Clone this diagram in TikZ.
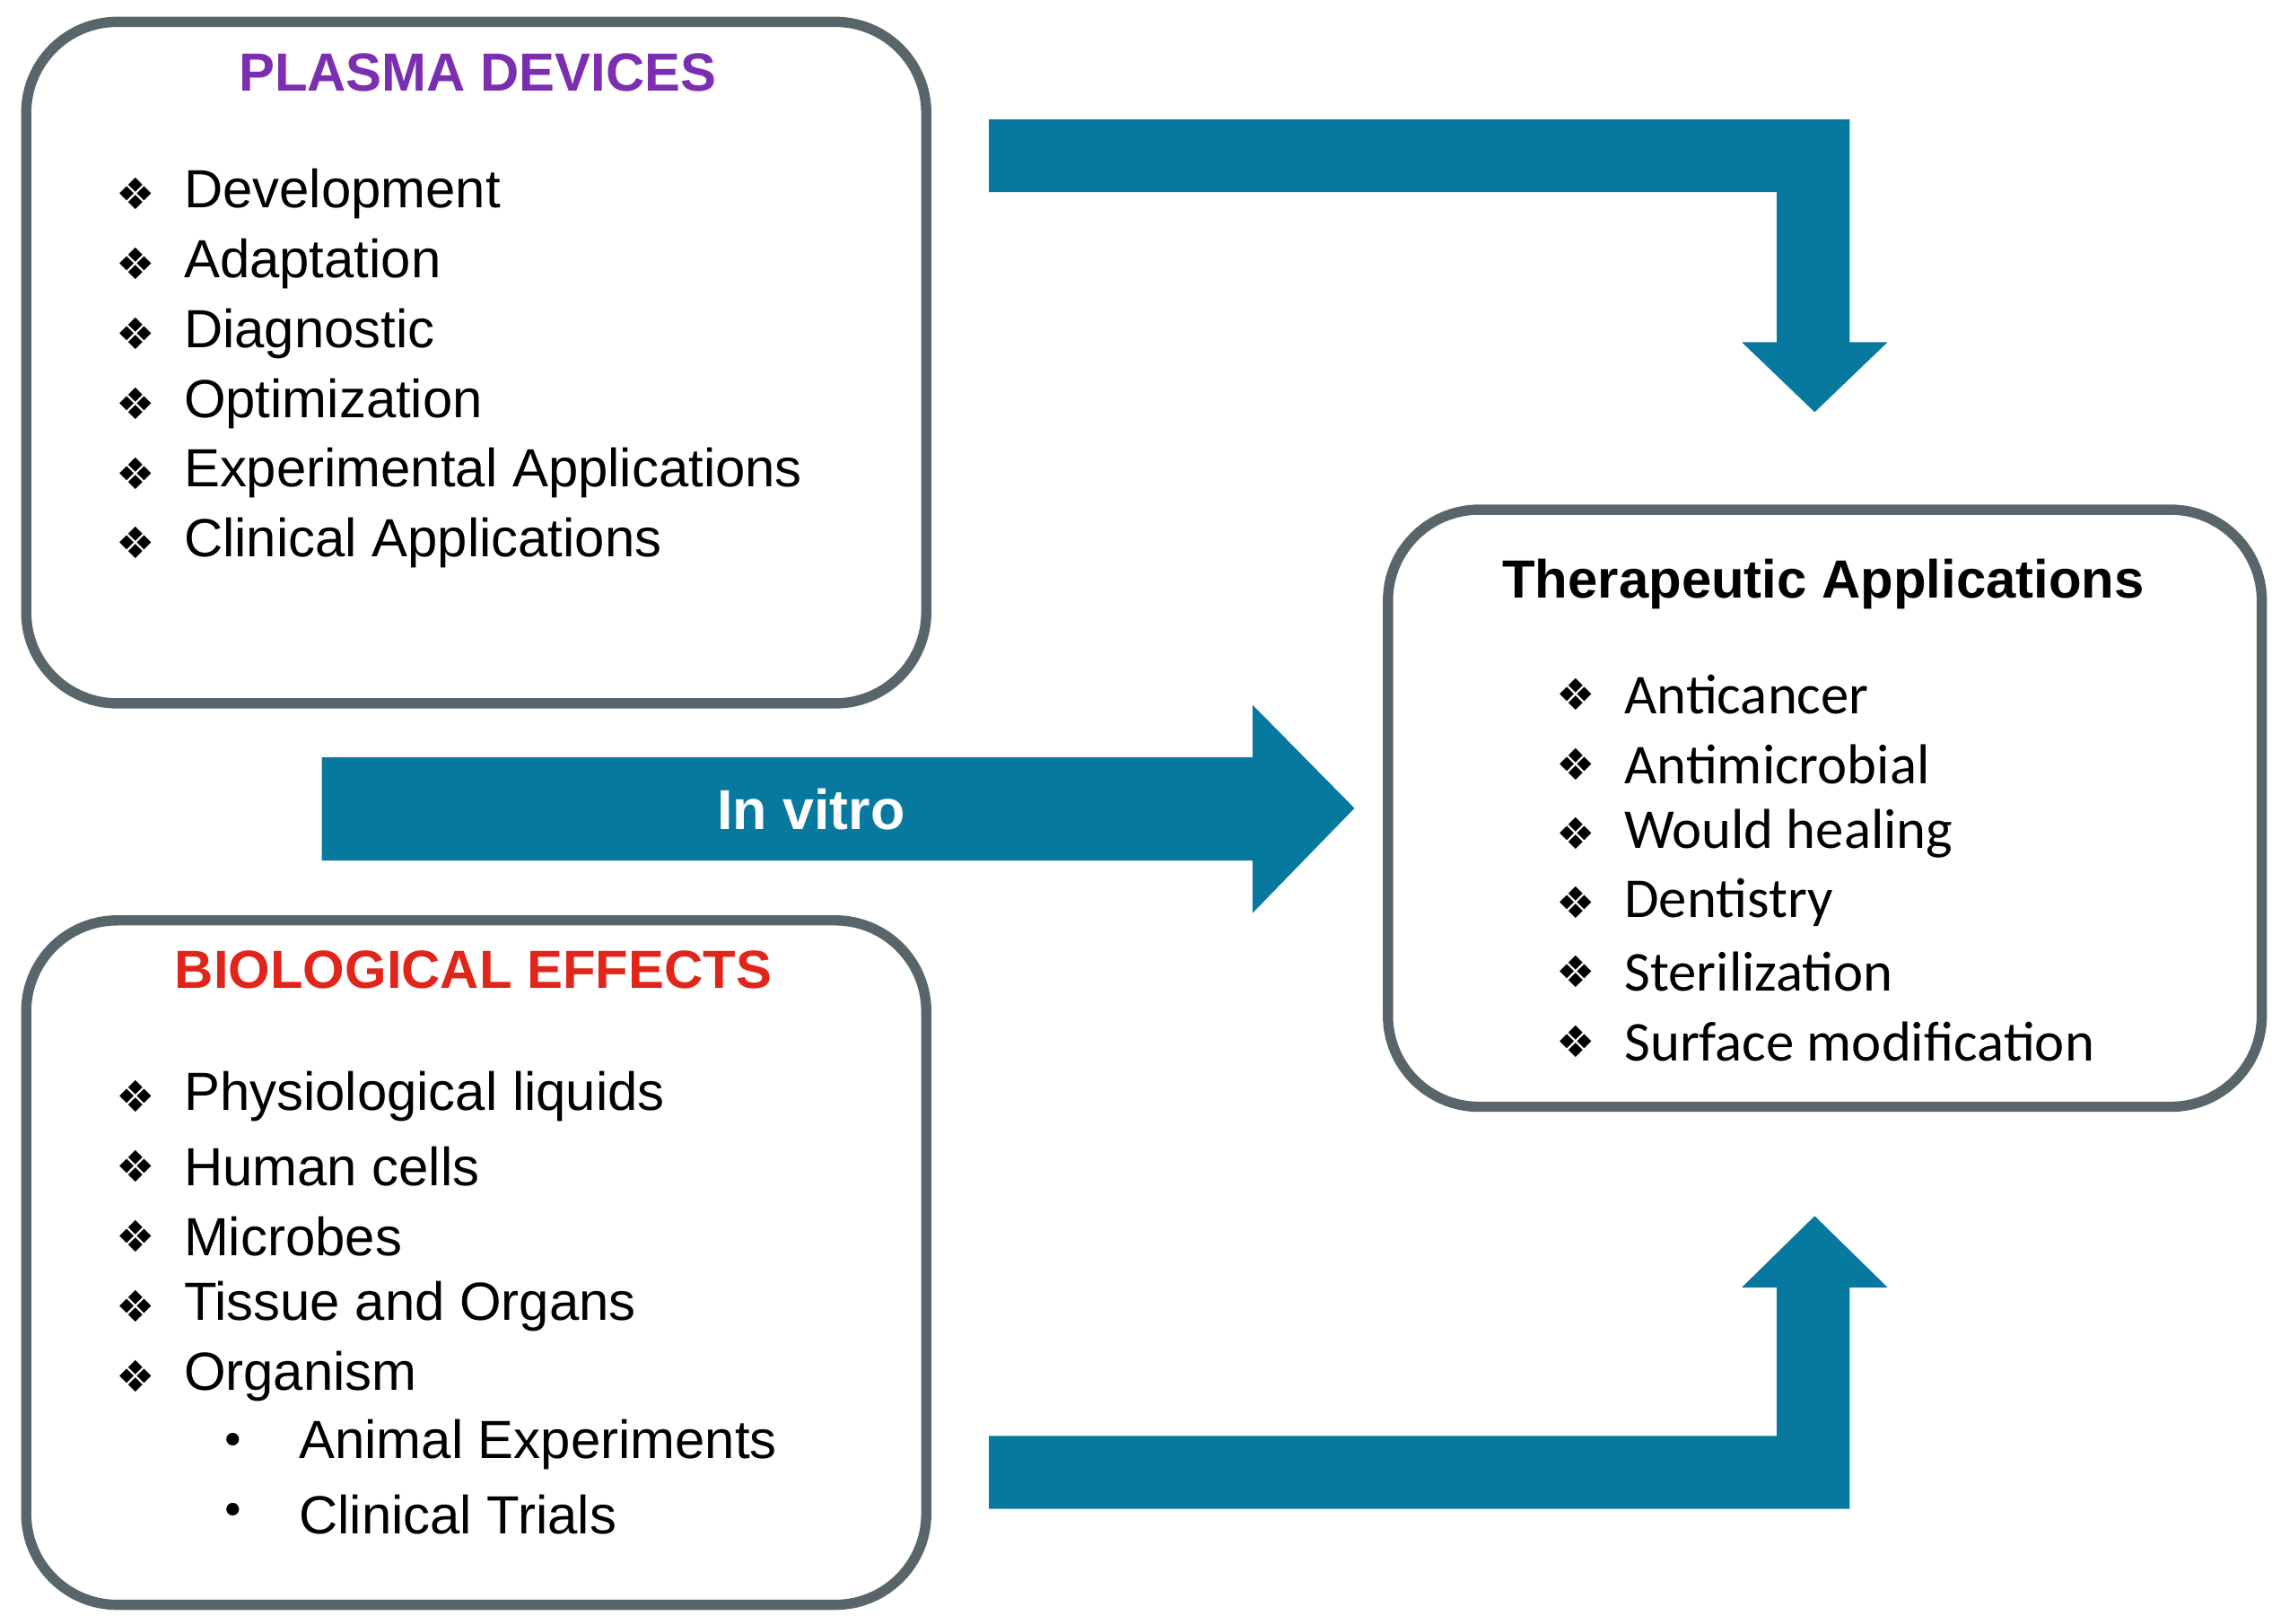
\documentclass[tikz,border=0pt]{standalone}
\usepackage{fontspec}
\setmainfont{Liberation Sans}
\newfontfamily\carl{Carlito}
\newfontfamily\djvfont{DejaVu Sans}
\definecolor{tealc}{HTML}{08799E}
\definecolor{frame}{HTML}{58666B}
\definecolor{purp}{HTML}{7B2FB0}
\definecolor{redt}{HTML}{E0261B}
\begin{document}
\begin{tikzpicture}[x=0.02cm,y=-0.02cm,
  box/.style={draw=frame,line width=4pt,rounded corners=1.25cm},
  itm/.style={anchor=west,inner sep=0pt,font=\fontsize{21}{24}\selectfont},
  itr/.style={anchor=west,inner sep=0pt,font=\carl\fontsize{22}{24}\selectfont},
  bul/.style={anchor=center,inner sep=0pt,font=\djvfont\fontsize{17}{20}\selectfont},
  arr/.style={fill=tealc,draw=none}]
\useasboundingbox (0,0) rectangle (1560,1115);
\draw[box] (18,15) rectangle (636,483);
\draw[box] (18,632) rectangle (636,1102);
\draw[box] (953,350) rectangle (1553,760);
% arrows
\fill[arr] (679,82) -- (1270,82) -- (1270,235) -- (1296,235) -- (1246,283) -- (1196,235) -- (1220,235) -- (1220,132) -- (679,132) -- cycle;
\fill[arr] (679,1036) -- (1270,1036) -- (1270,884) -- (1296,884) -- (1246,835) -- (1196,884) -- (1220,884) -- (1220,986) -- (679,986) -- cycle;
\fill[arr] (221,520) -- (860,520) -- (860,484) -- (930,555) -- (860,627) -- (860,591) -- (221,591) -- cycle;
\node[text=white,font=\bfseries\fontsize{22}{24}\selectfont] (iv) at (557,556) {In vitro};
% box1
\node[text=purp,font=\bfseries\fontsize{21}{24}\selectfont] (t1) at (328,50) {PLASMA DEVICES};
\foreach \t [count=\i] in {Development,Adaptation,Diagnostic,Optimization,Experimental Applications,Clinical Applications}{
  \node[bul] (b1\i) at (93,{133+48*(\i-1)}) {❖};
  \node[itm] (a1\i) at (126,{133+48*(\i-1)}) {\t};}
% box2
\node[text=redt,font=\bfseries\fontsize{21}{24}\selectfont] (t2) at (325,666) {BIOLOGICAL EFFECTS};
\foreach \t [count=\i] in {Physiological liquids,Human cells,Microbes,Tissue and Organs,Organism}{
  \node[bul] (b2\i) at (93,{753+48*(\i-1)}) {❖};
  \node[itm] (a2\i) at (126,{753+48*(\i-1)}) {\t};}
\node[bul] (s1) at (160,992) {•};
\node[itm] (s1t) at (205,992) {Animal Experiments};
\node[bul] (s2) at (160,1040) {•};
\node[itm] (s2t) at (205,1040) {Clinical Trials};
% box3
\node[font=\bfseries\fontsize{21}{24}\selectfont] (t3) at (1252,401) {Therapeutic Applications};
\foreach \t [count=\i] in {Anticancer,Antimicrobial,Would healing,Dentistry,Sterilization,Surface modification}{
  \node[bul] (b3\i) at (1082,{477+47.6*(\i-1)}) {❖};
  \node[itr] (a3\i) at (1115,{477+47.6*(\i-1)}) {\t};}
\end{tikzpicture}
\end{document}
